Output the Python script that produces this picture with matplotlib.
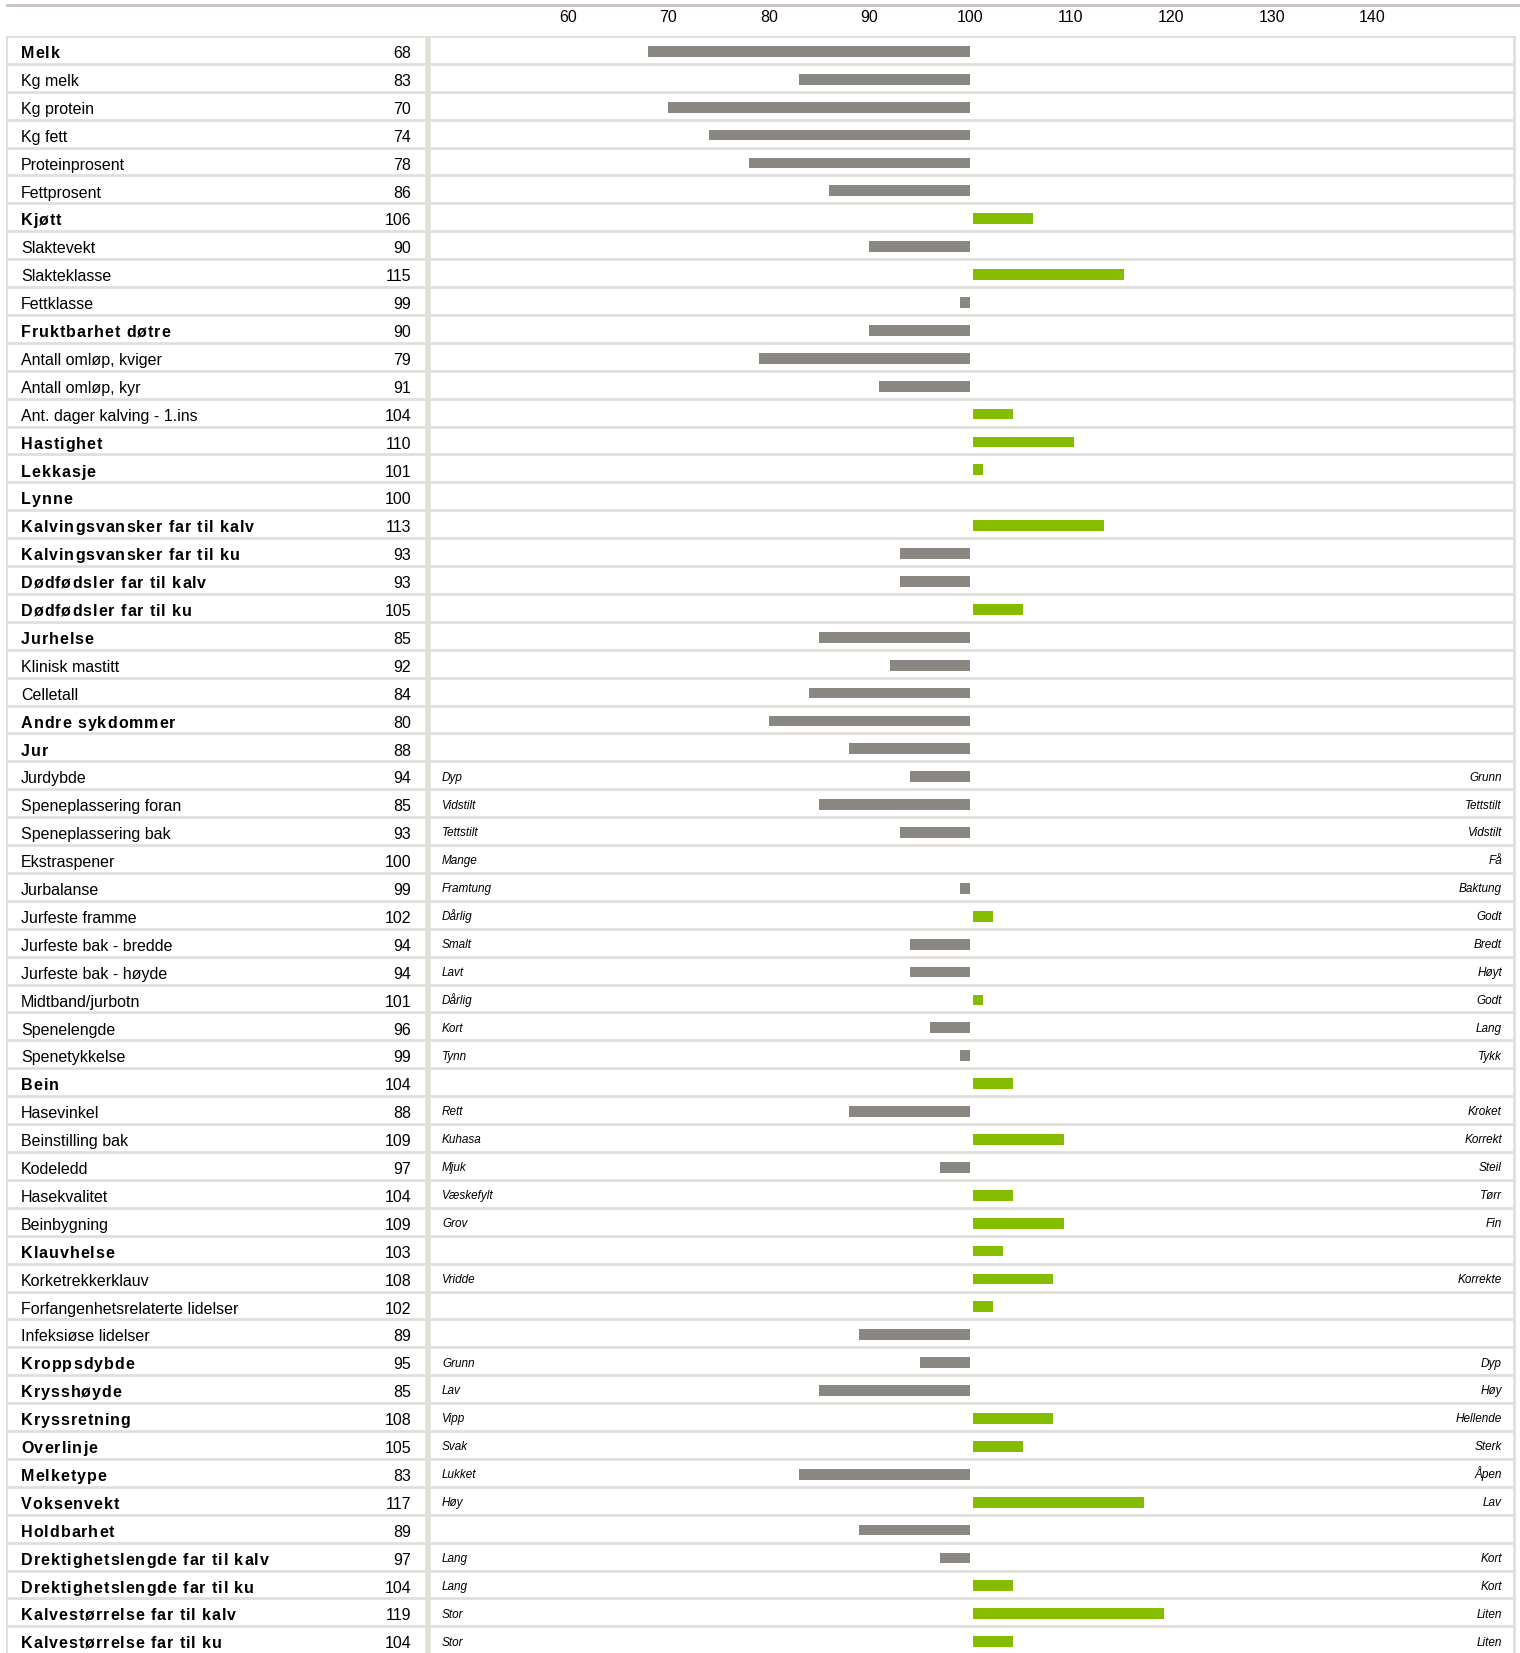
import numpy as np
import matplotlib.pyplot as plt
from matplotlib.lines import Line2D
from matplotlib.font_manager import FontProperties
from matplotlib.textpath import TextToPath

plt.rcParams['font.family'] = ['Liberation Sans', 'DejaVu Sans']

traits = ['Melk', 'Kg melk', 'Kg protein', 'Kg fett', 'Proteinprosent', 'Fettprosent',
          'Kjøtt', 'Slaktevekt', 'Slakteklasse', 'Fettklasse', 'Fruktbarhet døtre',
          'Antall omløp, kviger', 'Antall omløp, kyr', 'Ant. dager kalving - 1.ins',
          'Hastighet', 'Lekkasje', 'Lynne', 'Kalvingsvansker far til kalv',
          'Kalvingsvansker far til ku', 'Dødfødsler far til kalv', 'Dødfødsler far til ku',
          'Jurhelse', 'Klinisk mastitt', 'Celletall', 'Andre sykdommer', 'Jur', 'Jurdybde',
          'Speneplassering foran', 'Speneplassering bak', 'Ekstraspener', 'Jurbalanse',
          'Jurfeste framme', 'Jurfeste bak - bredde', 'Jurfeste bak - høyde',
          'Midtband/jurbotn', 'Spenelengde', 'Spenetykkelse', 'Bein', 'Hasevinkel',
          'Beinstilling bak', 'Kodeledd', 'Hasekvalitet', 'Beinbygning', 'Klauvhelse',
          'Korketrekkerklauv', 'Forfangenhetsrelaterte lidelser', 'Infeksiøse lidelser',
          'Kroppsdybde', 'Krysshøyde', 'Kryssretning', 'Overlinje', 'Melketype',
          'Voksenvekt', 'Holdbarhet', 'Drektighetslengde far til kalv',
          'Drektighetslengde far til ku', 'Kalvestørrelse far til kalv',
          'Kalvestørrelse far til ku']

values = [68, 83, 70, 74, 78, 86, 106, 90, 115, 99, 90, 79, 91, 104, 110, 101, 100,
          113, 93, 93, 105, 85, 92, 84, 80, 88, 94, 85, 93, 100, 99, 102, 94, 94, 101,
          96, 99, 104, 88, 109, 97, 104, 109, 103, 108, 102, 89, 95, 85, 108, 105, 83,
          117, 89, 97, 104, 119, 104]

bold_traits = {'Melk', 'Kjøtt', 'Fruktbarhet døtre', 'Hastighet', 'Lekkasje', 'Lynne',
               'Kalvingsvansker far til kalv', 'Kalvingsvansker far til ku',
               'Dødfødsler far til kalv', 'Dødfødsler far til ku', 'Jurhelse',
               'Andre sykdommer', 'Jur', 'Bein', 'Klauvhelse', 'Kroppsdybde',
               'Krysshøyde', 'Kryssretning', 'Overlinje', 'Melketype', 'Voksenvekt',
               'Holdbarhet', 'Drektighetslengde far til kalv',
               'Drektighetslengde far til ku', 'Kalvestørrelse far til kalv',
               'Kalvestørrelse far til ku'}

# low / high end descriptions for the linear traits
scale_ends = {
    'Jurdybde': ('Dyp', 'Grunn'),
    'Speneplassering foran': ('Vidstilt', 'Tettstilt'),
    'Speneplassering bak': ('Tettstilt', 'Vidstilt'),
    'Ekstraspener': ('Mange', 'Få'),
    'Jurbalanse': ('Framtung', 'Baktung'),
    'Jurfeste framme': ('Dårlig', 'Godt'),
    'Jurfeste bak - bredde': ('Smalt', 'Bredt'),
    'Jurfeste bak - høyde': ('Lavt', 'Høyt'),
    'Midtband/jurbotn': ('Dårlig', 'Godt'),
    'Spenelengde': ('Kort', 'Lang'),
    'Spenetykkelse': ('Tynn', 'Tykk'),
    'Hasevinkel': ('Rett', 'Kroket'),
    'Beinstilling bak': ('Kuhasa', 'Korrekt'),
    'Kodeledd': ('Mjuk', 'Steil'),
    'Hasekvalitet': ('Væskefylt', 'Tørr'),
    'Beinbygning': ('Grov', 'Fin'),
    'Korketrekkerklauv': ('Vridde', 'Korrekte'),
    'Kroppsdybde': ('Grunn', 'Dyp'),
    'Krysshøyde': ('Lav', 'Høy'),
    'Kryssretning': ('Vipp', 'Hellende'),
    'Overlinje': ('Svak', 'Sterk'),
    'Melketype': ('Lukket', 'Åpen'),
    'Voksenvekt': ('Høy', 'Lav'),
    'Drektighetslengde far til kalv': ('Lang', 'Kort'),
    'Drektighetslengde far til ku': ('Lang', 'Kort'),
    'Kalvestørrelse far til kalv': ('Stor', 'Liten'),
    'Kalvestørrelse far til ku': ('Stor', 'Liten'),
}

ticks = [60, 70, 80, 90, 100, 110, 120, 130, 140]

W, H = 1520, 1653
top = 36
row_h = 27.9
n = len(traits)
ylim = (-0.5 + (H - top) / row_h, -0.5)

GRAY = '#8a8681'
GREEN = '#84bc00'
LINE = '#e0dfda'
FS = 11.5

fig = plt.figure(figsize=(W / 100, H / 100), dpi=100)

# table grid + text, x in pixels
tab = fig.add_axes([0, 0, 1, 1 - top / H])
tab.set_xlim(0, W)
tab.set_ylim(*ylim)
tab.axis('off')

for i in range(n + 1):
    tab.hlines(i - 0.5, 7, 1515, color=LINE, lw=2)
tab.vlines(7, -0.5, n, color=LINE, lw=1.5)
tab.vlines(428, -0.5, n, color=LINE, lw=4)
tab.vlines(1514, -0.5, n, color=LINE, lw=2)

t2p = TextToPath()
bold_prop = FontProperties(family='Liberation Sans', weight='bold', size=FS)


def spaced_text(x, y, s, track=1.0):
    # bold headings are drawn letter by letter with a little extra tracking
    for ch in s:
        tab.text(x, y, ch, fontproperties=bold_prop, va='baseline', ha='left')
        w, _, _ = t2p.get_text_width_height_descent(ch, bold_prop, ismath=False)
        x += w * 100 / 72 + track


for i, (name, v) in enumerate(zip(traits, values)):
    if name in bold_traits:
        spaced_text(21, i + 0.29, name)
    else:
        tab.text(21, i + 0.29, name, fontsize=FS, va='baseline', ha='left')
    tab.text(411, i + 0.29, str(v), fontsize=FS, va='baseline', ha='right')
    if name in scale_ends:
        lo, hi = scale_ends[name]
        tab.text(442, i + 0.19, lo, fontsize=8.5, style='italic', va='baseline', ha='left')
        tab.text(1502, i + 0.19, hi, fontsize=8.5, style='italic', va='baseline', ha='right')

# bars around the base index 100
ax = fig.add_axes([430 / W, 0, (1514 - 430) / W, 1 - top / H])
ax.set_facecolor('none')
ax.set_xlim(46.3, 154.1)
ax.set_ylim(*ylim)
y = np.arange(n) + 0.05
vals = np.array(values)
low = vals < 100
high = vals > 100
ax.barh(y[low], vals[low] - 100, left=100, height=0.39, color=GRAY)
ax.barh(y[high], vals[high] - 100, left=100.3, height=0.39, color=GREEN)

ax.xaxis.tick_top()
ax.set_xticks(ticks)
ax.set_xticklabels([str(t) for t in ticks], fontsize=FS)
ax.tick_params(axis='x', length=0, pad=8)
ax.set_yticks([])
for s in ax.spines.values():
    s.set_visible(False)

fig.add_artist(Line2D([7 / W, 1], [1 - 4.7 / H, 1 - 4.7 / H], transform=fig.transFigure,
                      color='#c9c1bd', lw=2))

fig.savefig('out.png', dpi=100)
